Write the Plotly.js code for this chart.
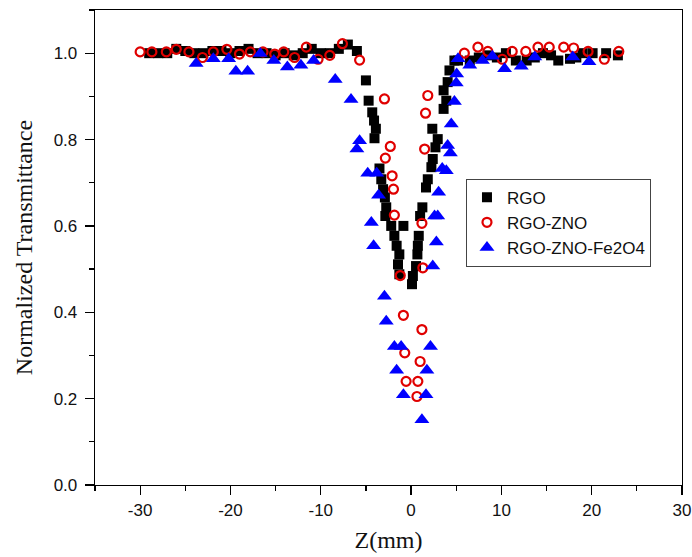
<!DOCTYPE html>
<html>
<head>
<meta charset="utf-8">
<script src="https://cdn.plot.ly/plotly-3.0.1.min.js"></script>
<style>html,body{margin:0;padding:0;background:#fff;}#chart{width:692px;height:557px;}</style>
</head>
<body>
<div id="chart"></div>
<script>
// RGO (black squares)
const rgoZ = [-29,-28,-27,-26,-25,-24,-23,-22,-21,-20,-19,-18,-17,-16,-15,-14,-13,-12,-11,-10,-9,-8,-7,-6,
  -5.0,-4.7,-4.3,-4.1,-3.9,-4.05,-3.5,-3.3,-3.1,-2.9,-2.75,-2.85,-2.2,-0.85,-1.85,-1.6,-1.3,-1.45,-1.3,0.1,
  0.2,0.55,0.7,0.75,0.85,1.0,1.25,1.65,1.85,2.25,2.4,2.7,2.95,2.35,3.6,3.9,3.6,4.05,4.25,4.8,5.2,6.5,
  7.5,8.5,9.5,10.5,11.6,12.8,13.7,14.6,15.5,16.3,17.6,18.3,19.0,20.1,21.6,22.9];
const rgoT = [1.00,1.00,1.00,1.01,1.005,1.00,1.00,1.005,1.005,1.00,1.005,1.01,1.00,1.00,0.995,1.00,0.995,1.00,1.01,1.00,1.00,1.01,1.02,1.005,
  0.937,0.890,0.863,0.844,0.825,0.803,0.733,0.708,0.685,0.666,0.643,0.623,0.600,0.600,0.577,0.554,0.534,0.511,0.488,0.465,
  0.484,0.507,0.534,0.554,0.577,0.623,0.643,0.689,0.708,0.736,0.755,0.782,0.801,0.825,0.871,0.890,0.914,0.933,0.960,0.983,0.983,0.983,
  0.99,0.995,0.99,1.00,0.983,0.983,0.99,1.00,0.995,0.983,0.987,0.99,1.00,1.00,1.00,0.995];

// RGO-ZNO (red open circles)
const znoZ = [-30,-28.7,-27.1,-26.0,-24.6,-23.1,-21.9,-20.4,-19.0,-17.8,-16.4,-15.1,-14.1,-12.9,-11.6,-10.3,-9.0,-7.6,-5.7,
  -2.95,1.85,1.6,-2.3,1.5,-2.85,-2.1,-1.95,-1.85,1.2,-1.2,1.3,-0.85,1.2,-0.7,1.0,-0.55,0.75,0.65,
  5.9,7.4,8.5,10.1,11.2,12.7,14.05,15.3,16.9,18.0,19.6,21.4,23.0];
const znoT = [1.003,1.003,1.003,1.009,1.003,0.990,1.003,1.009,0.998,1.003,1.003,0.998,1.003,0.990,1.014,0.986,0.995,1.022,0.984,
  0.894,0.902,0.861,0.784,0.778,0.757,0.716,0.685,0.625,0.606,0.485,0.503,0.393,0.360,0.306,0.286,0.240,0.240,0.205,
  1.000,1.014,1.004,0.986,1.004,1.004,1.014,1.014,1.014,1.012,1.004,0.986,1.004];

// RGO-ZNO-Fe2O4 (blue triangles)
const feZ = [-23.8,-21.9,-20.2,-19.4,-18.1,-16.7,-15.2,-13.7,-12.2,-10.8,-8.4,-6.65,-5.7,-6.0,-4.8,-3.8,-3.6,-4.4,-4.15,-2.95,-2.75,-1.85,-1.1,-1.6,-0.85,
  1.2,1.65,1.75,2.15,2.4,2.8,2.6,2.95,3.05,3.45,3.9,4.35,4.05,4.45,4.8,5.0,5.05,5.2,6.5,7.9,9.0,10.35,12.2,13.7,17.9,19.7];
const feT = [0.976,0.987,0.987,0.958,0.958,0.999,0.983,0.968,0.972,0.983,0.939,0.893,0.797,0.778,0.722,0.722,0.671,0.608,0.554,0.437,0.379,0.321,0.321,0.266,0.209,
  0.151,0.209,0.266,0.321,0.507,0.563,0.623,0.623,0.678,0.733,0.728,0.769,0.786,0.836,0.888,0.931,0.952,0.987,0.972,0.983,0.993,0.964,0.970,0.991,0.991,0.980];

const xTicks = [-30,-20,-10,0,10,20,30];
const yTicks = [0.0,0.2,0.4,0.6,0.8,1.0];

const traces = [
  {x: rgoZ, y: rgoT, name: 'RGO', type: 'scatter', mode: 'markers',
   marker: {symbol: 'square', size: 10, color: '#000000'}},
  {x: znoZ, y: znoT, name: 'RGO-ZNO', type: 'scatter', mode: 'markers',
   marker: {symbol: 'circle-open', size: 9, color: '#e00000', line: {width: 2.2, color: '#e00000'}}},
  {x: feZ, y: feT, name: 'RGO-ZNO-Fe2O4', type: 'scatter', mode: 'markers',
   marker: {symbol: 'triangle-up', size: 13, color: '#0000ff'}}
];

const axisCommon = {
  showgrid: false, zeroline: false, showline: true, linecolor: '#000', linewidth: 1.3,
  mirror: true, ticks: 'outside', ticklen: 9, tickwidth: 1.3, tickcolor: '#000',
  tickfont: {family: 'Liberation Sans, Arial, sans-serif', size: 17, color: '#111'}
};
const titleFont = {family: 'Liberation Serif, Times New Roman, serif', size: 24, color: '#111'};

const layout = {
  width: 692, height: 557,
  margin: {l: 95, r: 10, t: 10, b: 72},
  paper_bgcolor: '#fff', plot_bgcolor: '#fff',
  showlegend: true,
  xaxis: Object.assign({}, axisCommon, {
    range: [-35, 30], tickvals: xTicks, ticktext: xTicks.map(String),
    minor: {dtick: 5, tick0: 0, ticks: 'outside', ticklen: 5, tickcolor: '#000', tickwidth: 1.2},
    title: {text: '\u00a0\u00a0\u00a0\u00a0\u00a0\u00a0Z(mm)', font: titleFont, standoff: 12}
  }),
  yaxis: Object.assign({}, axisCommon, {
    range: [0, 1.1], tickvals: yTicks, ticktext: yTicks.map(v => v.toFixed(1)),
    ticklabelstandoff: 4,
    minor: {dtick: 0.1, tick0: 0, ticks: 'outside', ticklen: 5, tickcolor: '#000', tickwidth: 1.2},
    title: {text: 'Normalized Transmittance', font: titleFont, standoff: 14}
  }),
  legend: {
    x: 0.632, y: 0.645, xanchor: 'left', yanchor: 'top',
    bgcolor: '#fff', bordercolor: '#444', borderwidth: 1,
    font: {family: 'Liberation Sans, Arial, sans-serif', size: 17, color: '#111'}
  }
};

Plotly.newPlot('chart', traces, layout, {staticPlot: true, displayModeBar: false});
</script>
</body>
</html>
